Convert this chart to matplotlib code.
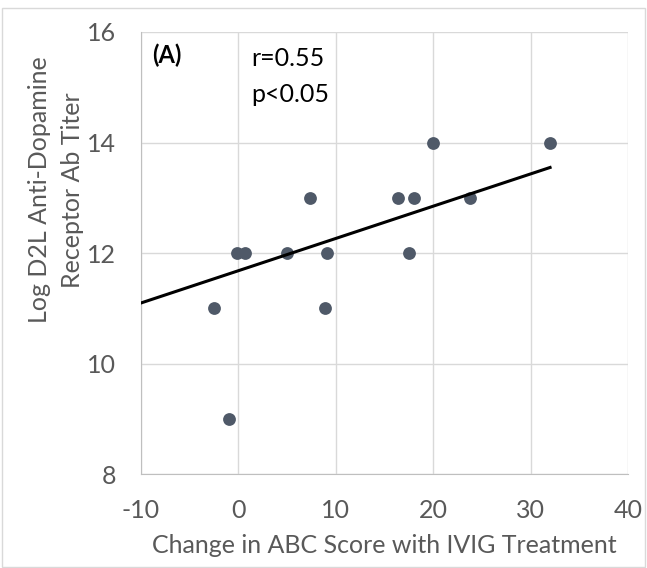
import numpy as np
import matplotlib.pyplot as plt
from matplotlib.patches import Rectangle

# values
abc_change = [-2.5, -1.0, -0.1, 0.7, 5.0, 7.3, 8.9, 9.1, 16.4, 17.5, 18.0, 20.0, 23.8, 32.0]
log_titer = [11, 9, 12, 12, 12, 13, 11, 12, 13, 12, 13, 14, 13, 14]
trend_x = [-10, 32]
trend_y = [11.1, 13.55]
x_ticks = [-10, 0, 10, 20, 30, 40]
y_ticks = [8, 10, 12, 14, 16]

plt.rcParams['font.family'] = ['Lato', 'DejaVu Sans']
plt.rcParams['axes.unicode_minus'] = False

fig = plt.figure(figsize=(6.47, 5.68), dpi=100)
ax = fig.add_axes([0.218, 0.1648, 0.7526, 0.7789])

fig.patches.append(Rectangle((0.003, 0.002), 0.994, 0.984, transform=fig.transFigure,
                             fill=False, edgecolor='#d9d9d9', linewidth=1))

ax.scatter(abc_change, log_titer, s=85, color='#4f5968', zorder=3, linewidths=0)
ax.plot(trend_x, trend_y, color='black', linewidth=2.2, zorder=4)

ax.set_xlim(-10, 40)
ax.set_ylim(8, 16)
ax.set_xticks(x_ticks)
ax.set_yticks(y_ticks)
ax.grid(True, color='#d9d9d9', linewidth=1)
ax.set_axisbelow(True)
for s in ['top', 'right']:
    ax.spines[s].set_visible(False)
for s in ['left', 'bottom']:
    ax.spines[s].set_color('#bfbfbf')
ax.tick_params(length=0, labelsize=18, colors='#595959')
ax.tick_params(axis='y', pad=18)
ax.tick_params(axis='x', pad=18)

ax.set_xlabel('Change in ABC Score with IVIG Treatment', fontsize=18, color='#595959', labelpad=8)
ax.set_ylabel('Log D2L Anti-Dopamine\nReceptor Ab Titer', fontsize=18, color='#595959',
              linespacing=1.5)
ax.yaxis.set_label_coords(-0.118, 0.643)

ax.text(-8.9, 15.57, '(A)', fontsize=17, fontweight='bold', va='center')
ax.text(1.3, 15.2, 'r=0.55\np<0.05', fontsize=18, va='center', linespacing=1.7)

plt.savefig('out.png', dpi=100)
